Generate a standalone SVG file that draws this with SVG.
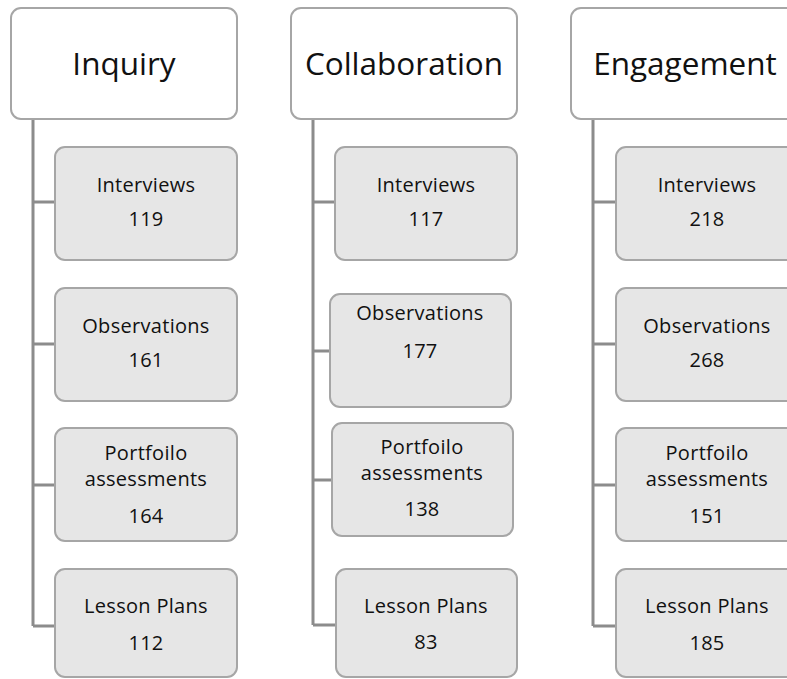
<svg xmlns="http://www.w3.org/2000/svg" width="787" height="679" viewBox="0 0 787 679">
<style>
.hdr{fill:#ffffff;stroke:#a6a6a6;stroke-width:2}
.box{fill:#e6e6e6;stroke:#a6a6a6;stroke-width:2}
.ht{font-family:"Open Sans","Liberation Sans",sans-serif;font-size:31.5px;fill:#111;text-anchor:middle}
.t{font-family:"Open Sans","Liberation Sans",sans-serif;font-size:20px;letter-spacing:0.3px;fill:#111;text-anchor:middle}
.c{fill:none;stroke:#8c8c8c;stroke-width:3}
</style>
<rect width="787" height="679" fill="#ffffff"/>
<g id="connectors">
<path class="c" d="M33 119V626M33 202H55M33 344H55M33 485H55M33 626H55"/>
<path class="c" d="M313 119V625M313 202H335M313 351H330M313 480H332M313 625H336"/>
<path class="c" d="M593 119V626M593 202H616M593 344H616M593 485H616M593 626H616"/>
</g>
<g id="inquiry">
<rect class="hdr" x="11" y="8" width="226" height="111" rx="10"/>
<text class="ht" x="124" y="75">Inquiry</text>
</g>
<g id="inquiry-interviews">
<rect class="box" x="55" y="147" width="182" height="113" rx="10"/>
<text class="t" x="146" y="192">Interviews</text>
<text class="t" x="146" y="226">119</text>
</g>
<g id="inquiry-observations">
<rect class="box" x="55" y="288" width="182" height="113" rx="10"/>
<text class="t" x="146" y="333">Observations</text>
<text class="t" x="146" y="367">161</text>
</g>
<g id="inquiry-portfolio">
<rect class="box" x="55" y="428" width="182" height="113" rx="10"/>
<text class="t" x="146" y="460">Portfoilo</text>
<text class="t" x="146" y="486">assessments</text>
<text class="t" x="146" y="523">164</text>
</g>
<g id="inquiry-lessons">
<rect class="box" x="55" y="569" width="182" height="108" rx="10"/>
<text class="t" x="146" y="613">Lesson Plans</text>
<text class="t" x="146" y="650">112</text>
</g>
<g id="collaboration">
<rect class="hdr" x="291" y="8" width="226" height="111" rx="10"/>
<text class="ht" x="404" y="75">Collaboration</text>
</g>
<g id="collaboration-interviews">
<rect class="box" x="335" y="147" width="182" height="113" rx="10"/>
<text class="t" x="426" y="192">Interviews</text>
<text class="t" x="426" y="226">117</text>
</g>
<g id="collaboration-observations">
<rect class="box" x="330" y="294" width="181" height="113" rx="10"/>
<text class="t" x="420" y="320">Observations</text>
<text class="t" x="420" y="358">177</text>
</g>
<g id="collaboration-portfolio">
<rect class="box" x="332" y="423" width="181" height="113" rx="10"/>
<text class="t" x="422" y="454">Portfoilo</text>
<text class="t" x="422" y="480">assessments</text>
<text class="t" x="422" y="516">138</text>
</g>
<g id="collaboration-lessons">
<rect class="box" x="336" y="569" width="181" height="108" rx="10"/>
<text class="t" x="426" y="613">Lesson Plans</text>
<text class="t" x="426" y="649">83</text>
</g>
<g id="engagement">
<rect class="hdr" x="571" y="8" width="226" height="111" rx="10"/>
<text class="ht" x="685" y="75">Engagement</text>
</g>
<g id="engagement-interviews">
<rect class="box" x="616" y="147" width="182" height="113" rx="10"/>
<text class="t" x="707" y="192">Interviews</text>
<text class="t" x="707" y="226">218</text>
</g>
<g id="engagement-observations">
<rect class="box" x="616" y="288" width="182" height="113" rx="10"/>
<text class="t" x="707" y="333">Observations</text>
<text class="t" x="707" y="367">268</text>
</g>
<g id="engagement-portfolio">
<rect class="box" x="616" y="428" width="182" height="113" rx="10"/>
<text class="t" x="707" y="460">Portfoilo</text>
<text class="t" x="707" y="486">assessments</text>
<text class="t" x="707" y="523">151</text>
</g>
<g id="engagement-lessons">
<rect class="box" x="616" y="569" width="182" height="108" rx="10"/>
<text class="t" x="707" y="613">Lesson Plans</text>
<text class="t" x="707" y="650">185</text>
</g>
</svg>
